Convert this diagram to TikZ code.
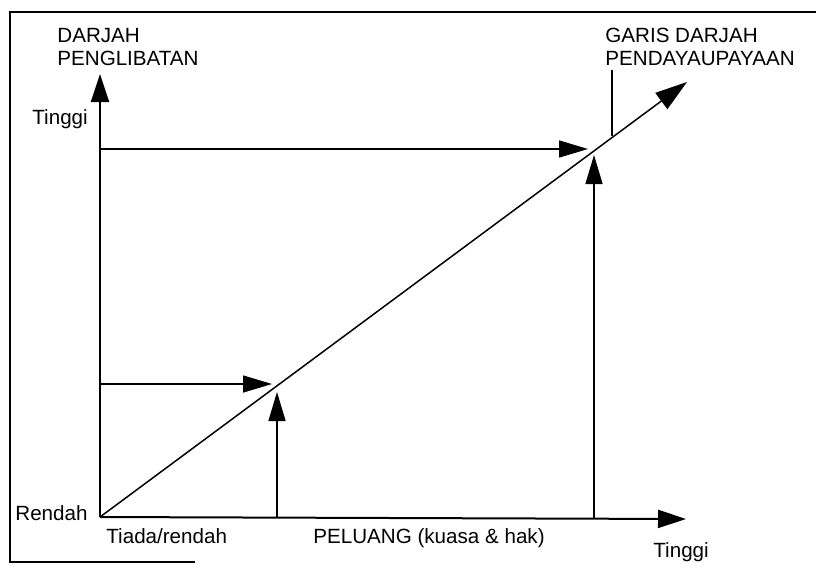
\documentclass[tikz,border=0pt]{standalone}
\usepackage{fontspec}
\setmainfont{Liberation Sans}
\usetikzlibrary{positioning}
\usetikzlibrary{arrows.meta}
\tikzset {
  % axes of the chart
  axis/.style={line width=1pt, -{Triangle[length=14pt,width=9pt]}},
  % arrows that meet the line
  meet/.style={line width=0.75pt, -{Triangle[length=14.5pt,width=8.5pt]}},
  % text labels
  txt/.style={inner sep=0pt, font=\fontsize{10.3}{11.5}\selectfont, align=left},
}

\begin{document}
\begin{tikzpicture}[x=0.5pt, y=-0.5pt]
  \useasboundingbox (0,0) rectangle (817,568);

  % frame of the scan
  \draw[line width=0.8pt] (816,12) -- (10,12) -- (10,562) -- (195,562);

  \coordinate (o) at (100,517);
  \coordinate (ytop) at (100,74);
  \coordinate (xend) at (686,519);
  \coordinate (dend) at (687,82);

  \coordinate (hiy) at (100,149);
  \coordinate (hix) at (588,149);
  \coordinate (hib) at (594,518);
  \coordinate (hit) at (594,155);

  \coordinate (loy) at (100,384);
  \coordinate (lox) at (272,384);
  \coordinate (lob) at (277,517);
  \coordinate (lot) at (277,392);

  \coordinate (tag) at (612,70);
  \coordinate (tagend) at (612,136);

  \draw[axis] (o) -- (ytop);
  \draw[axis] (o) -- (xend);
  \draw[line width=0.75pt, -{Triangle[length=16pt,width=10pt]}] (o) -- (dend);

  \draw[meet] (hiy) -- (hix);
  \draw[meet] (hib) -- (hit);
  \draw[meet] (loy) -- (lox);
  \draw[meet] (lob) -- (lot);
  \draw[line width=0.75pt] (tag) -- (tagend);

  \node[txt, anchor=north west] (yname) at (57,28) {DARJAH\\PENGLIBATAN};
  \node[txt, anchor=north west] (dname) at (605,28) {GARIS DARJAH\\PENDAYAUPAYAAN};
  \node[txt, anchor=base west] (yhigh) at (32,124) {Tinggi};
  \node[txt, anchor=base west] (low) at (15,520) {Rendah};
  \node[txt, anchor=base west] (xlow) at (106,543) {Tiada/rendah};
  \node[txt, anchor=base west] (xname) at (313,543) {PELUANG (kuasa \& hak)};
  \node[txt, anchor=base west] (xhigh) at (653,557) {Tinggi};
\end{tikzpicture}
\end{document}
